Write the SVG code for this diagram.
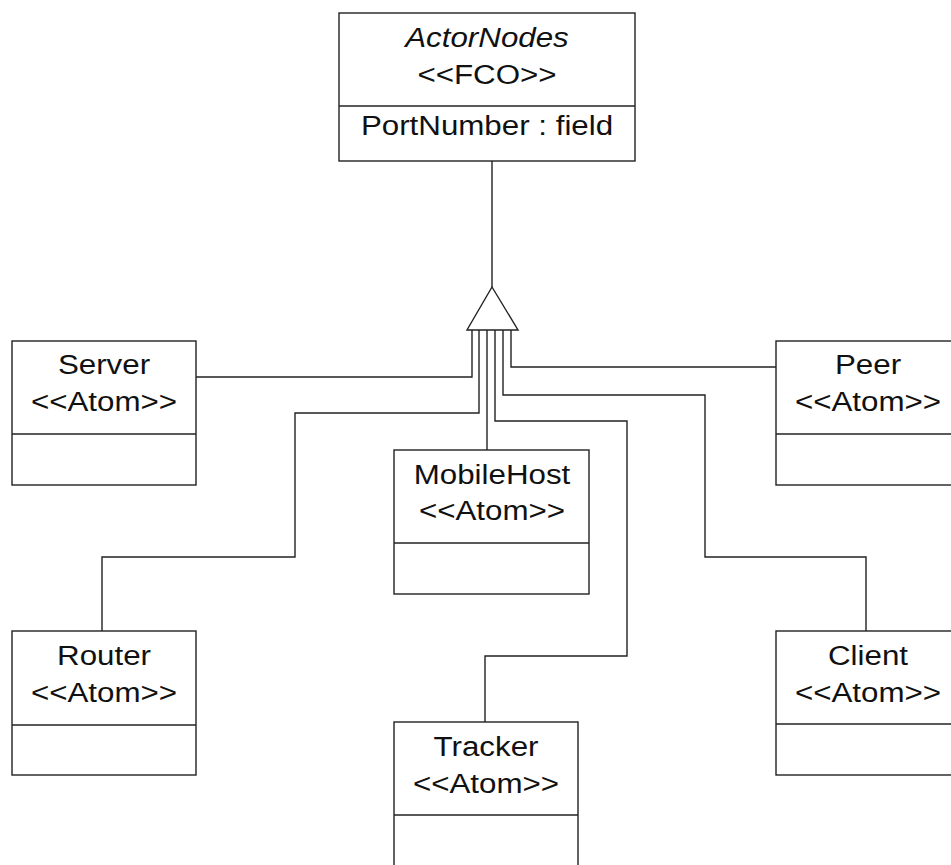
<svg xmlns="http://www.w3.org/2000/svg" width="951" height="865" viewBox="0 0 951 865">
  <style>
    .box { fill: #ffffff; stroke: #222222; stroke-width: 1.4; }
    .sep { stroke: #222222; stroke-width: 1.4; }
    .wire { fill: none; stroke: #222222; stroke-width: 1.4; }
    .lbl { font-family: "Liberation Sans", Arial, sans-serif; font-size: 27px; fill: #111111; text-anchor: middle; }
    .abstract { font-style: italic; }
  </style>
  <rect width="951" height="865" fill="#ffffff"/>

  <!-- generalization connectors -->
  <g id="connectors">
    <path class="wire" d="M492,161 V287"/>
    <path class="wire" d="M472,330 V377 H196"/>
    <path class="wire" d="M479,330 V413 H295 V557 H102 V631"/>
    <path class="wire" d="M487,330 V450"/>
    <path class="wire" d="M495,330 V421 H627 V656 H485 V722"/>
    <path class="wire" d="M503,330 V395 H705 V557 H866 V631"/>
    <path class="wire" d="M511,330 V367 H776"/>
    <polygon class="box" points="492,287 467,330 518,330"/>
  </g>

  <g id="ActorNodes">
    <rect class="box" x="339" y="13" width="296" height="148"/>
    <line class="sep" x1="339" y1="106" x2="635" y2="106"/>
    <g transform="translate(487 0) scale(1.16 1)">
      <text class="lbl abstract" x="0" y="47">ActorNodes</text>
      <text class="lbl" x="0" y="84">&lt;&lt;FCO&gt;&gt;</text>
      <text class="lbl" x="0" y="135">PortNumber : field</text>
    </g>
  </g>

  <g id="Server">
    <rect class="box" x="12" y="341" width="184" height="144"/>
    <line class="sep" x1="12" y1="434" x2="196" y2="434"/>
    <g transform="translate(104 0) scale(1.16 1)">
      <text class="lbl" x="0" y="374">Server</text>
      <text class="lbl" x="0" y="411">&lt;&lt;Atom&gt;&gt;</text>
    </g>
  </g>

  <g id="Peer">
    <rect class="box" x="776" y="341" width="184" height="144"/>
    <line class="sep" x1="776" y1="434" x2="960" y2="434"/>
    <g transform="translate(868 0) scale(1.16 1)">
      <text class="lbl" x="0" y="374">Peer</text>
      <text class="lbl" x="0" y="411">&lt;&lt;Atom&gt;&gt;</text>
    </g>
  </g>

  <g id="MobileHost">
    <rect class="box" x="394" y="450" width="195" height="144"/>
    <line class="sep" x1="394" y1="543" x2="589" y2="543"/>
    <g transform="translate(492 0) scale(1.16 1)">
      <text class="lbl" x="0" y="484">MobileHost</text>
      <text class="lbl" x="0" y="520">&lt;&lt;Atom&gt;&gt;</text>
    </g>
  </g>

  <g id="Router">
    <rect class="box" x="12" y="631" width="184" height="144"/>
    <line class="sep" x1="12" y1="725" x2="196" y2="725"/>
    <g transform="translate(104 0) scale(1.16 1)">
      <text class="lbl" x="0" y="665">Router</text>
      <text class="lbl" x="0" y="702">&lt;&lt;Atom&gt;&gt;</text>
    </g>
  </g>

  <g id="Client">
    <rect class="box" x="776" y="631" width="184" height="144"/>
    <line class="sep" x1="776" y1="724" x2="960" y2="724"/>
    <g transform="translate(868 0) scale(1.16 1)">
      <text class="lbl" x="0" y="665">Client</text>
      <text class="lbl" x="0" y="702">&lt;&lt;Atom&gt;&gt;</text>
    </g>
  </g>

  <g id="Tracker">
    <rect class="box" x="394" y="722" width="184" height="144"/>
    <line class="sep" x1="394" y1="815" x2="578" y2="815"/>
    <g transform="translate(486 0) scale(1.16 1)">
      <text class="lbl" x="0" y="756">Tracker</text>
      <text class="lbl" x="0" y="793">&lt;&lt;Atom&gt;&gt;</text>
    </g>
  </g>
</svg>
